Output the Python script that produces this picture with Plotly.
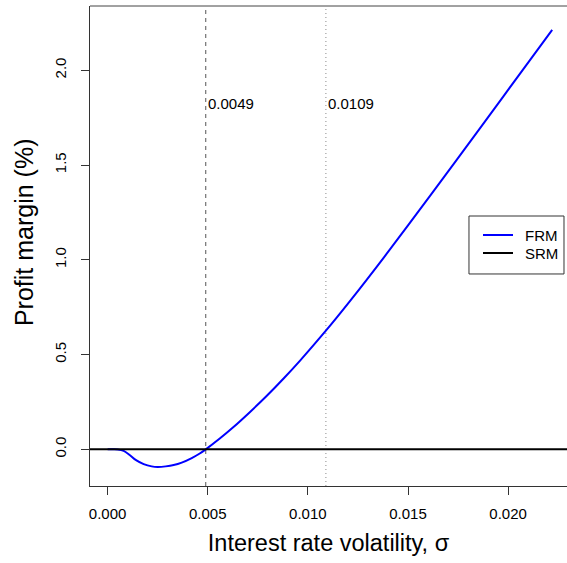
import plotly.graph_objects as go

# Data
sigma = [0.0, 0.0003, 0.0005, 0.0008, 0.0011, 0.0014, 0.0018, 0.0022, 0.0025, 0.0029,
         0.0033, 0.0037, 0.0042, 0.0046, 0.0049, 0.0056, 0.0063, 0.0071, 0.0079, 0.0088,
         0.0096, 0.0109, 0.0121, 0.0138, 0.0161, 0.0186, 0.0211, 0.0222]
frm = [0.0, 0.0, -0.001, -0.008, -0.030, -0.056, -0.078, -0.090, -0.093, -0.090,
       -0.083, -0.070, -0.046, -0.022, 0.0, 0.057, 0.119, 0.196, 0.277, 0.375,
       0.467, 0.626, 0.782, 1.013, 1.337, 1.695, 2.055, 2.213]
srm_value = 0.0
series_names = ["FRM", "SRM"]
series_colors = ["#0000ff", "#000000"]
thresholds = [0.0049, 0.0109]
threshold_labels = ["0.0049", "0.0109"]
label_y = 1.826
x_ticks = [0.0, 0.005, 0.010, 0.015, 0.020]
y_ticks = [0.0, 0.5, 1.0, 1.5, 2.0]

FONT = "Liberation Sans, Arial, Helvetica, sans-serif"

fig = go.Figure()
fig.add_trace(go.Scatter(x=sigma, y=frm, mode="lines", name=series_names[0],
                         line=dict(color=series_colors[0], width=2, shape="spline", smoothing=0.8)))
fig.add_hline(y=srm_value, line=dict(color=series_colors[1], width=2), layer="above")

dash_styles = [dict(color="#555555", width=1, dash="4px,4px"),
               dict(color="#8a8a8a", width=1, dash="1px,3px")]
for t, lab, st in zip(thresholds, threshold_labels, dash_styles):
    fig.add_vline(x=t, line=st, layer="below")
    fig.add_annotation(x=t, y=label_y, text=lab, showarrow=False, xanchor="left",
                       yanchor="middle", xshift=0, font=dict(size=15, color="black", family=FONT))

# top border of the R box
fig.add_shape(type="line", xref="paper", yref="paper", x0=0, x1=1, y0=1, y1=1,
              line=dict(color="#444444", width=1))

# R-style legend box (paper coordinates)
fig.add_shape(type="rect", xref="paper", yref="paper", x0=0.7945, x1=0.9937,
              y0=0.4417, y1=0.5625, line=dict(color="#333333", width=1),
              fillcolor="white", layer="above")
leg_rows = [0.5229, 0.4854]
for name, col, yy in zip(series_names, series_colors, leg_rows):
    fig.add_shape(type="line", xref="paper", yref="paper", x0=0.8239, x1=0.8868,
                  y0=yy, y1=yy, line=dict(color=col, width=2), layer="above")
    fig.add_annotation(xref="paper", yref="paper", x=0.9078, y=yy, text=name,
                       showarrow=False, xanchor="left", yanchor="middle",
                       font=dict(size=15, color="black", family=FONT))

# y-axis title as annotation (R centres it slightly differently)
fig.add_annotation(xref="paper", yref="paper", x=-0.1394, y=0.528, text="Profit margin (%)",
                   textangle=-90, showarrow=False, xanchor="center", yanchor="middle",
                   font=dict(size=25, color="black", family=FONT))

fig.update_layout(
    width=567, height=563,
    margin=dict(l=90, r=0, t=6, b=77),
    paper_bgcolor="white", plot_bgcolor="white",
    font=dict(family=FONT, color="black", size=15),
    showlegend=False,
    xaxis=dict(range=[-0.00088, 0.02294], tickvals=x_ticks, tickformat=".3f",
               showgrid=False, zeroline=False, showline=True, linecolor="#333333",
               linewidth=1, ticks="outside", ticklen=8, tickcolor="#333333",
               tickfont=dict(size=15), ticklabelstandoff=6,
               title=dict(text="Interest rate volatility, σ", font=dict(size=23.5), standoff=13)),
    yaxis=dict(range=[-0.1935, 2.339], tickvals=y_ticks, tickformat=".1f",
               showgrid=False, zeroline=False, showline=True, linecolor="#333333",
               linewidth=1, ticks="outside", ticklen=8, tickcolor="#333333",
               tickangle=-90, tickfont=dict(size=15), ticklabelstandoff=9),
)

fig.write_html("out.html", config={"displayModeBar": False},
               post_script="document.body.style.margin='0';")
